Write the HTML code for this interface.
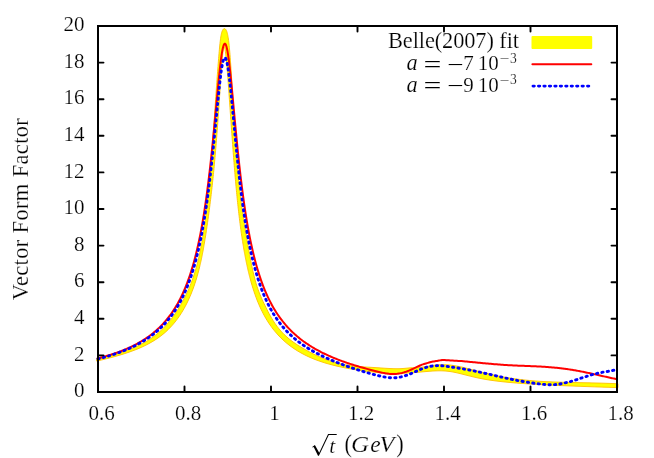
<!DOCTYPE html>
<html><head><meta charset="utf-8"><title>Vector Form Factor</title>
<style>
html,body{margin:0;padding:0;background:#fff;}
body{width:654px;height:458px;overflow:hidden;}
svg{display:block;will-change:transform;}
text{font-family:"Liberation Serif",serif;font-size:22.4px;fill:#000;stroke:#fff;stroke-width:0.2px;paint-order:fill stroke;}
text.d{font-size:21.0px;}
.it{font-style:italic;}
text.op{stroke-width:0.08px;}
text.sp{stroke-width:0.2px;}
</style></head><body>
<svg width="654" height="458" viewBox="0 0 654 458">
<rect x="0" y="0" width="654" height="458" fill="#fff"/>
<!-- Belle band -->
<path d="M96.70 358.79 L97.50 358.62 L98.00 358.51 L99.00 358.29 L100.00 358.06 L101.00 357.84 L102.00 357.61 L103.00 357.38 L104.00 357.14 L105.00 356.90 L106.00 356.66 L107.00 356.41 L108.00 356.16 L109.00 355.91 L110.00 355.65 L111.00 355.39 L112.00 355.12 L113.00 354.85 L114.00 354.57 L115.00 354.29 L116.00 354.00 L117.00 353.71 L118.00 353.41 L119.00 353.11 L120.00 352.80 L121.00 352.48 L122.00 352.16 L123.00 351.83 L124.00 351.49 L125.00 351.15 L126.00 350.80 L127.00 350.44 L128.00 350.07 L129.00 349.70 L130.00 349.31 L131.00 348.92 L132.00 348.51 L133.00 348.10 L134.00 347.68 L135.00 347.24 L136.00 346.80 L137.00 346.34 L138.00 345.87 L139.00 345.39 L140.00 344.90 L141.00 344.39 L142.00 343.87 L143.00 343.34 L144.00 342.79 L145.00 342.22 L146.00 341.64 L147.00 341.04 L148.00 340.43 L149.00 339.79 L150.00 339.14 L151.00 338.47 L152.00 337.78 L153.00 337.06 L154.00 336.32 L155.00 335.56 L156.00 334.78 L157.00 333.97 L158.00 333.13 L159.00 332.27 L160.00 331.37 L161.00 330.44 L162.00 329.49 L163.00 328.50 L164.00 327.48 L165.00 326.43 L166.00 325.34 L167.00 324.22 L168.00 323.06 L169.00 321.87 L170.00 320.64 L171.00 319.38 L172.00 318.07 L173.00 316.73 L174.00 315.34 L175.00 313.91 L176.00 312.44 L177.00 310.92 L178.00 309.35 L179.00 307.73 L180.00 306.06 L181.00 304.34 L182.00 302.56 L183.00 300.72 L184.00 298.83 L185.00 296.86 L186.00 294.82 L187.00 292.72 L188.00 290.53 L189.00 288.26 L190.00 285.89 L191.00 283.40 L192.00 280.78 L193.00 278.00 L194.00 275.04 L195.00 271.88 L196.00 268.49 L197.00 264.85 L198.00 260.91 L199.00 256.65 L200.00 252.03 L200.20 251.06 L200.40 250.07 L200.60 249.06 L200.80 248.04 L201.00 247.00 L201.20 245.94 L201.40 244.87 L201.60 243.77 L201.80 242.66 L202.00 241.53 L202.20 240.37 L202.40 239.20 L202.60 238.00 L202.80 236.79 L203.00 235.55 L203.20 234.29 L203.40 233.01 L203.60 231.70 L203.80 230.37 L204.00 229.02 L204.20 227.65 L204.40 226.24 L204.60 224.82 L204.80 223.36 L205.00 221.88 L205.20 220.38 L205.40 218.85 L205.60 217.29 L205.80 215.70 L206.00 214.08 L206.20 212.43 L206.40 210.76 L206.60 209.05 L206.80 207.31 L207.00 205.54 L207.20 203.74 L207.40 201.91 L207.60 200.05 L207.80 198.15 L208.00 196.22 L208.20 194.26 L208.40 192.26 L208.60 190.23 L208.80 188.17 L209.00 186.07 L209.20 183.93 L209.40 181.76 L209.60 179.56 L209.80 177.32 L210.00 175.04 L210.20 172.73 L210.40 170.39 L210.60 168.00 L210.80 165.59 L211.00 163.14 L211.20 160.65 L211.40 158.13 L211.60 155.58 L211.80 153.00 L212.00 150.38 L212.20 147.73 L212.40 145.05 L212.60 142.35 L212.80 139.61 L213.00 136.85 L213.20 134.06 L213.40 131.26 L213.60 128.43 L213.80 125.58 L214.00 122.71 L214.20 119.83 L214.40 116.94 L214.60 114.04 L214.80 111.13 L215.00 108.21 L215.20 105.30 L215.40 102.39 L215.60 99.49 L215.80 96.59 L216.00 93.71 L216.20 90.85 L216.40 88.01 L216.60 85.19 L216.80 82.41 L217.00 79.66 L217.20 76.94 L217.40 74.25 L217.60 71.59 L217.80 68.95 L218.00 66.34 L218.20 63.75 L218.40 61.18 L218.60 58.66 L218.80 56.17 L219.00 53.75 L219.20 51.41 L219.40 49.16 L219.60 47.03 L219.80 45.03 L220.00 43.15 L220.20 41.41 L220.40 39.81 L220.60 38.35 L220.80 37.03 L221.00 35.84 L221.20 34.77 L221.40 33.82 L221.60 32.99 L221.80 32.26 L222.00 31.61 L222.20 31.06 L222.40 30.57 L222.60 30.16 L222.80 29.80 L223.00 29.50 L223.20 29.25 L223.40 29.04 L223.60 28.88 L223.80 28.76 L224.00 28.67 L224.20 28.62 L224.40 28.60 L224.60 28.62 L224.80 28.67 L225.00 28.76 L225.20 28.88 L225.40 29.04 L225.60 29.24 L225.80 29.49 L226.00 29.79 L226.20 30.13 L226.40 30.53 L226.60 31.00 L226.80 31.53 L227.00 32.13 L227.20 32.81 L227.40 33.58 L227.60 34.44 L227.80 35.41 L228.00 36.48 L228.20 37.68 L228.40 39.01 L228.60 40.47 L228.80 42.07 L229.00 43.82 L229.20 45.72 L229.40 47.77 L229.60 49.97 L229.80 52.31 L230.00 54.79 L230.20 57.40 L230.40 60.13 L230.60 62.97 L230.80 65.89 L231.00 68.90 L231.20 71.99 L231.40 75.14 L231.60 78.34 L231.80 81.60 L232.00 84.89 L232.20 88.21 L232.40 91.56 L232.60 94.91 L232.80 98.28 L233.00 101.64 L233.20 104.99 L233.40 108.33 L233.60 111.65 L233.80 114.94 L234.00 118.20 L234.20 121.43 L234.40 124.62 L234.60 127.77 L234.80 130.87 L235.00 133.92 L235.20 136.92 L235.40 139.88 L235.60 142.78 L235.80 145.62 L236.00 148.41 L236.20 151.15 L236.40 153.82 L236.60 156.45 L236.80 159.01 L237.00 161.52 L237.20 163.97 L237.40 166.37 L237.60 168.72 L237.80 171.01 L238.00 173.25 L238.20 175.43 L238.40 177.57 L238.60 179.65 L238.80 181.69 L239.00 183.68 L239.20 185.62 L239.40 187.52 L239.60 189.37 L239.80 191.18 L240.00 192.95 L240.20 194.69 L240.40 196.38 L240.60 198.04 L240.80 199.66 L241.00 201.25 L241.20 202.80 L241.40 204.32 L241.60 205.82 L241.80 207.28 L242.00 208.72 L242.20 210.14 L242.40 211.52 L242.60 212.89 L242.80 214.24 L243.00 215.56 L243.20 216.87 L243.40 218.16 L243.60 219.43 L243.80 220.69 L244.00 221.93 L244.20 223.16 L244.40 224.38 L244.60 225.59 L244.80 226.80 L245.00 227.99 L245.20 229.18 L245.40 230.36 L245.60 231.54 L245.80 232.72 L246.00 233.89 L246.20 235.07 L246.40 236.24 L246.60 237.41 L246.80 238.59 L247.00 239.76 L247.20 240.92 L247.40 242.09 L247.60 243.25 L247.80 244.40 L248.00 245.55 L248.20 246.70 L248.40 247.84 L248.60 248.97 L248.80 250.10 L249.00 251.22 L249.20 252.33 L249.40 253.44 L249.60 254.54 L249.80 255.62 L250.00 256.70 L251.00 261.94 L252.00 266.88 L253.00 271.50 L254.00 275.75 L255.00 279.62 L256.00 283.13 L257.00 286.34 L258.00 289.29 L259.00 292.02 L260.00 294.57 L261.00 296.96 L262.00 299.22 L263.00 301.40 L264.00 303.50 L265.00 305.56 L266.00 307.59 L267.00 309.58 L268.00 311.53 L269.00 313.43 L270.00 315.27 L271.00 317.05 L272.00 318.77 L273.00 320.41 L274.00 321.98 L275.00 323.47 L276.00 324.90 L277.00 326.26 L278.00 327.56 L279.00 328.80 L280.00 329.99 L281.00 331.13 L282.00 332.22 L283.00 333.27 L284.00 334.28 L285.00 335.25 L286.00 336.19 L287.00 337.09 L288.00 337.96 L289.00 338.80 L290.00 339.61 L291.00 340.39 L292.00 341.16 L293.00 341.90 L294.00 342.62 L295.00 343.32 L296.00 344.00 L297.00 344.66 L298.00 345.31 L299.00 345.94 L300.00 346.56 L301.00 347.17 L302.00 347.77 L303.00 348.35 L304.00 348.93 L305.00 349.49 L306.00 350.05 L307.00 350.60 L308.00 351.15 L309.00 351.68 L310.00 352.21 L311.00 352.73 L312.00 353.24 L313.00 353.75 L314.00 354.24 L315.00 354.73 L316.00 355.20 L317.00 355.67 L318.00 356.13 L319.00 356.58 L320.00 357.02 L321.00 357.45 L322.00 357.87 L323.00 358.28 L324.00 358.69 L325.00 359.08 L326.00 359.46 L327.00 359.83 L328.00 360.19 L329.00 360.54 L330.00 360.89 L331.00 361.22 L332.00 361.54 L333.00 361.85 L334.00 362.15 L335.00 362.44 L336.00 362.72 L337.00 362.99 L338.00 363.25 L339.00 363.50 L340.00 363.74 L341.00 363.97 L342.00 364.19 L343.00 364.40 L344.00 364.59 L345.00 364.78 L346.00 364.96 L347.00 365.12 L348.00 365.28 L349.00 365.43 L350.00 365.57 L351.00 365.70 L352.00 365.83 L353.00 365.95 L354.00 366.06 L355.00 366.17 L356.00 366.27 L357.00 366.37 L358.00 366.46 L359.00 366.54 L360.00 366.62 L361.00 366.70 L362.00 366.78 L363.00 366.85 L364.00 366.92 L365.00 366.98 L366.00 367.04 L367.00 367.11 L368.00 367.17 L369.00 367.23 L370.00 367.28 L371.00 367.34 L372.00 367.40 L373.00 367.46 L374.00 367.52 L375.00 367.58 L376.00 367.64 L377.00 367.70 L378.00 367.77 L379.00 367.83 L380.00 367.90 L381.00 367.97 L382.00 368.04 L383.00 368.11 L384.00 368.18 L385.00 368.24 L386.00 368.31 L387.00 368.37 L388.00 368.43 L389.00 368.48 L390.00 368.53 L391.00 368.58 L392.00 368.62 L393.00 368.65 L394.00 368.68 L395.00 368.70 L396.00 368.71 L397.00 368.71 L398.00 368.71 L399.00 368.69 L400.00 368.66 L401.00 368.62 L402.00 368.56 L403.00 368.49 L404.00 368.41 L405.00 368.32 L406.00 368.23 L407.00 368.13 L408.00 368.03 L409.00 367.95 L410.00 367.87 L411.00 367.81 L412.00 367.77 L413.00 367.74 L414.00 367.72 L415.00 367.70 L416.00 367.67 L417.00 367.63 L418.00 367.57 L419.00 367.49 L420.00 367.39 L421.00 367.29 L422.00 367.16 L423.00 367.03 L424.00 366.88 L425.00 366.72 L426.00 366.56 L427.00 366.39 L428.00 366.22 L429.00 366.05 L430.00 365.87 L431.00 365.70 L432.00 365.54 L433.00 365.39 L434.00 365.25 L435.00 365.12 L436.00 365.01 L437.00 364.91 L438.00 364.83 L439.00 364.76 L440.00 364.71 L441.00 364.68 L442.00 364.66 L443.00 364.65 L444.00 364.67 L445.00 364.69 L446.00 364.73 L447.00 364.79 L448.00 364.86 L449.00 364.95 L450.00 365.05 L451.00 365.17 L452.00 365.29 L453.00 365.43 L454.00 365.58 L455.00 365.75 L456.00 365.92 L457.00 366.10 L458.00 366.30 L459.00 366.50 L460.00 366.71 L461.00 366.92 L462.00 367.15 L463.00 367.38 L464.00 367.62 L465.00 367.86 L466.00 368.10 L467.00 368.35 L468.00 368.60 L469.00 368.86 L470.00 369.11 L471.00 369.37 L472.00 369.63 L473.00 369.90 L474.00 370.16 L475.00 370.42 L476.00 370.68 L477.00 370.94 L478.00 371.20 L479.00 371.46 L480.00 371.72 L481.00 371.98 L482.00 372.23 L483.00 372.48 L484.00 372.73 L485.00 372.98 L486.00 373.22 L487.00 373.46 L488.00 373.70 L489.00 373.94 L490.00 374.17 L491.00 374.40 L492.00 374.63 L493.00 374.85 L494.00 375.07 L495.00 375.28 L496.00 375.49 L497.00 375.70 L498.00 375.90 L499.00 376.10 L500.00 376.30 L501.00 376.49 L502.00 376.68 L503.00 376.87 L504.00 377.05 L505.00 377.23 L506.00 377.40 L507.00 377.57 L508.00 377.74 L509.00 377.90 L510.00 378.06 L511.00 378.22 L512.00 378.37 L513.00 378.52 L514.00 378.66 L515.00 378.80 L516.00 378.94 L517.00 379.07 L518.00 379.21 L519.00 379.33 L520.00 379.46 L521.00 379.58 L522.00 379.70 L523.00 379.81 L524.00 379.92 L525.00 380.03 L526.00 380.14 L527.00 380.24 L528.00 380.34 L529.00 380.43 L530.00 380.53 L531.00 380.62 L532.00 380.70 L533.00 380.79 L534.00 380.87 L535.00 380.95 L536.00 381.02 L537.00 381.09 L538.00 381.16 L539.00 381.23 L540.00 381.30 L541.00 381.36 L542.00 381.42 L543.00 381.47 L544.00 381.53 L545.00 381.58 L546.00 381.63 L547.00 381.68 L548.00 381.73 L549.00 381.78 L550.00 381.82 L551.00 381.86 L552.00 381.90 L553.00 381.94 L554.00 381.98 L555.00 382.02 L556.00 382.05 L557.00 382.09 L558.00 382.12 L559.00 382.15 L560.00 382.18 L561.00 382.21 L562.00 382.24 L563.00 382.27 L564.00 382.29 L565.00 382.32 L566.00 382.35 L567.00 382.37 L568.00 382.40 L569.00 382.42 L570.00 382.44 L571.00 382.46 L572.00 382.49 L573.00 382.51 L574.00 382.53 L575.00 382.55 L576.00 382.57 L577.00 382.59 L578.00 382.61 L579.00 382.63 L580.00 382.65 L581.00 382.67 L582.00 382.69 L583.00 382.72 L584.00 382.74 L585.00 382.76 L586.00 382.78 L587.00 382.80 L588.00 382.82 L589.00 382.84 L590.00 382.86 L591.00 382.88 L592.00 382.91 L593.00 382.93 L594.00 382.95 L595.00 382.98 L596.00 383.00 L597.00 383.03 L598.00 383.05 L599.00 383.08 L600.00 383.11 L601.00 383.14 L602.00 383.17 L603.00 383.20 L604.00 383.23 L605.00 383.26 L606.00 383.29 L607.00 383.32 L608.00 383.36 L609.00 383.39 L610.00 383.43 L611.00 383.47 L612.00 383.51 L613.00 383.55 L614.00 383.59 L615.00 383.63 L616.00 383.67 L617.00 383.71 L617.90 383.76 L617.90 387.65 L617.00 387.60 L616.00 387.57 L615.00 387.54 L614.00 387.51 L613.00 387.47 L612.00 387.44 L611.00 387.41 L610.00 387.38 L609.00 387.34 L608.00 387.31 L607.00 387.28 L606.00 387.24 L605.00 387.21 L604.00 387.18 L603.00 387.14 L602.00 387.11 L601.00 387.08 L600.00 387.04 L599.00 387.01 L598.00 386.97 L597.00 386.94 L596.00 386.91 L595.00 386.87 L594.00 386.84 L593.00 386.80 L592.00 386.77 L591.00 386.73 L590.00 386.70 L589.00 386.66 L588.00 386.62 L587.00 386.59 L586.00 386.55 L585.00 386.52 L584.00 386.48 L583.00 386.44 L582.00 386.41 L581.00 386.37 L580.00 386.33 L579.00 386.29 L578.00 386.26 L577.00 386.22 L576.00 386.18 L575.00 386.14 L574.00 386.10 L573.00 386.07 L572.00 386.03 L571.00 385.99 L570.00 385.95 L569.00 385.91 L568.00 385.87 L567.00 385.83 L566.00 385.79 L565.00 385.74 L564.00 385.70 L563.00 385.66 L562.00 385.62 L561.00 385.58 L560.00 385.53 L559.00 385.49 L558.00 385.45 L557.00 385.40 L556.00 385.36 L555.00 385.31 L554.00 385.27 L553.00 385.22 L552.00 385.17 L551.00 385.13 L550.00 385.08 L549.00 385.03 L548.00 384.98 L547.00 384.93 L546.00 384.88 L545.00 384.83 L544.00 384.78 L543.00 384.73 L542.00 384.68 L541.00 384.63 L540.00 384.57 L539.00 384.52 L538.00 384.46 L537.00 384.41 L536.00 384.35 L535.00 384.29 L534.00 384.23 L533.00 384.17 L532.00 384.11 L531.00 384.05 L530.00 383.99 L529.00 383.93 L528.00 383.86 L527.00 383.80 L526.00 383.73 L525.00 383.66 L524.00 383.59 L523.00 383.52 L522.00 383.45 L521.00 383.38 L520.00 383.30 L519.00 383.23 L518.00 383.15 L517.00 383.07 L516.00 382.99 L515.00 382.91 L514.00 382.83 L513.00 382.74 L512.00 382.66 L511.00 382.57 L510.00 382.48 L509.00 382.39 L508.00 382.29 L507.00 382.20 L506.00 382.10 L505.00 382.00 L504.00 381.89 L503.00 381.79 L502.00 381.68 L501.00 381.57 L500.00 381.45 L499.00 381.34 L498.00 381.22 L497.00 381.09 L496.00 380.97 L495.00 380.84 L494.00 380.70 L493.00 380.57 L492.00 380.43 L491.00 380.28 L490.00 380.13 L489.00 379.98 L488.00 379.82 L487.00 379.66 L486.00 379.49 L485.00 379.32 L484.00 379.14 L483.00 378.96 L482.00 378.77 L481.00 378.57 L480.00 378.37 L479.00 378.17 L478.00 377.96 L477.00 377.74 L476.00 377.52 L475.00 377.29 L474.00 377.06 L473.00 376.83 L472.00 376.59 L471.00 376.34 L470.00 376.10 L469.00 375.85 L468.00 375.60 L467.00 375.34 L466.00 375.09 L465.00 374.83 L464.00 374.58 L463.00 374.32 L462.00 374.07 L461.00 373.82 L460.00 373.57 L459.00 373.33 L458.00 373.10 L457.00 372.86 L456.00 372.64 L455.00 372.43 L454.00 372.23 L453.00 372.03 L452.00 371.85 L451.00 371.69 L450.00 371.53 L449.00 371.40 L448.00 371.28 L447.00 371.17 L446.00 371.08 L445.00 371.00 L444.00 370.94 L443.00 370.89 L442.00 370.86 L441.00 370.83 L440.00 370.82 L439.00 370.82 L438.00 370.84 L437.00 370.86 L436.00 370.89 L435.00 370.93 L434.00 370.98 L433.00 371.03 L432.00 371.09 L431.00 371.16 L430.00 371.23 L429.00 371.31 L428.00 371.39 L427.00 371.47 L426.00 371.56 L425.00 371.65 L424.00 371.74 L423.00 371.83 L422.00 371.92 L421.00 372.01 L420.00 372.10 L419.00 372.19 L418.00 372.28 L417.00 372.37 L416.00 372.45 L415.00 372.53 L414.00 372.61 L413.00 372.69 L412.00 372.76 L411.00 372.83 L410.00 372.90 L409.00 372.96 L408.00 373.02 L407.00 373.07 L406.00 373.12 L405.00 373.16 L404.00 373.20 L403.00 373.24 L402.00 373.27 L401.00 373.29 L400.00 373.32 L399.00 373.33 L398.00 373.34 L397.00 373.35 L396.00 373.35 L395.00 373.34 L394.00 373.33 L393.00 373.32 L392.00 373.30 L391.00 373.27 L390.00 373.24 L389.00 373.21 L388.00 373.17 L387.00 373.12 L386.00 373.08 L385.00 373.02 L384.00 372.97 L383.00 372.90 L382.00 372.84 L381.00 372.77 L380.00 372.69 L379.00 372.61 L378.00 372.53 L377.00 372.45 L376.00 372.36 L375.00 372.26 L374.00 372.17 L373.00 372.06 L372.00 371.96 L371.00 371.85 L370.00 371.74 L369.00 371.62 L368.00 371.50 L367.00 371.38 L366.00 371.26 L365.00 371.13 L364.00 370.99 L363.00 370.86 L362.00 370.72 L361.00 370.58 L360.00 370.43 L359.00 370.28 L358.00 370.13 L357.00 369.97 L356.00 369.81 L355.00 369.65 L354.00 369.49 L353.00 369.32 L352.00 369.15 L351.00 368.97 L350.00 368.79 L349.00 368.61 L348.00 368.43 L347.00 368.24 L346.00 368.05 L345.00 367.85 L344.00 367.65 L343.00 367.45 L342.00 367.24 L341.00 367.02 L340.00 366.81 L339.00 366.58 L338.00 366.36 L337.00 366.13 L336.00 365.89 L335.00 365.65 L334.00 365.40 L333.00 365.15 L332.00 364.89 L331.00 364.63 L330.00 364.36 L329.00 364.08 L328.00 363.80 L327.00 363.51 L326.00 363.22 L325.00 362.92 L324.00 362.61 L323.00 362.29 L322.00 361.97 L321.00 361.63 L320.00 361.29 L319.00 360.95 L318.00 360.59 L317.00 360.22 L316.00 359.85 L315.00 359.46 L314.00 359.07 L313.00 358.67 L312.00 358.25 L311.00 357.83 L310.00 357.39 L309.00 356.94 L308.00 356.49 L307.00 356.01 L306.00 355.53 L305.00 355.04 L304.00 354.53 L303.00 354.01 L302.00 353.47 L301.00 352.92 L300.00 352.36 L299.00 351.78 L298.00 351.19 L297.00 350.57 L296.00 349.95 L295.00 349.30 L294.00 348.64 L293.00 347.96 L292.00 347.26 L291.00 346.54 L290.00 345.80 L289.00 345.03 L288.00 344.25 L287.00 343.44 L286.00 342.61 L285.00 341.75 L284.00 340.87 L283.00 339.96 L282.00 339.02 L281.00 338.05 L280.00 337.05 L279.00 336.01 L278.00 334.94 L277.00 333.84 L276.00 332.70 L275.00 331.52 L274.00 330.29 L273.00 329.02 L272.00 327.71 L271.00 326.34 L270.00 324.93 L269.00 323.46 L268.00 321.93 L267.00 320.34 L266.00 318.68 L265.00 316.95 L264.00 315.15 L263.00 313.27 L262.00 311.30 L261.00 309.25 L260.00 307.09 L259.00 304.83 L258.00 302.46 L257.00 299.96 L256.00 297.34 L255.00 294.57 L254.00 291.65 L253.00 288.56 L252.00 285.29 L251.00 281.82 L250.00 278.13 L249.80 277.37 L249.60 276.60 L249.40 275.81 L249.20 275.02 L249.00 274.21 L248.80 273.40 L248.60 272.57 L248.40 271.74 L248.20 270.89 L248.00 270.03 L247.80 269.16 L247.60 268.28 L247.40 267.39 L247.20 266.48 L247.00 265.56 L246.80 264.63 L246.60 263.69 L246.40 262.73 L246.20 261.76 L246.00 260.78 L245.80 259.78 L245.60 258.77 L245.40 257.74 L245.20 256.70 L245.00 255.65 L244.80 254.57 L244.60 253.49 L244.40 252.38 L244.20 251.26 L244.00 250.13 L243.80 248.97 L243.60 247.80 L243.40 246.62 L243.20 245.41 L243.00 244.18 L242.80 242.94 L242.60 241.68 L242.40 240.39 L242.20 239.09 L242.00 237.77 L241.80 236.42 L241.60 235.06 L241.40 233.67 L241.20 232.26 L241.00 230.83 L240.80 229.37 L240.60 227.89 L240.40 226.39 L240.20 224.86 L240.00 223.31 L239.80 221.73 L239.60 220.12 L239.40 218.49 L239.20 216.84 L239.00 215.15 L238.80 213.44 L238.60 211.69 L238.40 209.92 L238.20 208.12 L238.00 206.29 L237.80 204.43 L237.60 202.54 L237.40 200.61 L237.20 198.66 L237.00 196.67 L236.80 194.64 L236.60 192.59 L236.40 190.50 L236.20 188.37 L236.00 186.21 L235.80 184.02 L235.60 181.79 L235.40 179.52 L235.20 177.22 L235.00 174.88 L234.80 172.51 L234.60 170.10 L234.40 167.66 L234.20 165.18 L234.00 162.68 L233.80 160.14 L233.60 157.58 L233.40 154.98 L233.20 152.36 L233.00 149.71 L232.80 147.04 L232.60 144.35 L232.40 141.63 L232.20 138.89 L232.00 136.13 L231.80 133.36 L231.60 130.57 L231.40 127.77 L231.20 124.95 L231.00 122.12 L230.80 119.28 L230.60 116.44 L230.40 113.59 L230.20 110.74 L230.00 107.89 L229.80 105.04 L229.60 102.19 L229.40 99.35 L229.20 96.53 L229.00 93.71 L228.80 90.92 L228.60 88.14 L228.40 85.39 L228.20 82.67 L228.00 79.99 L227.80 77.34 L227.60 74.75 L227.40 72.21 L227.20 69.73 L227.00 67.31 L226.80 64.97 L226.60 62.70 L226.40 60.54 L226.20 58.47 L226.00 56.53 L225.80 54.73 L225.60 53.08 L225.40 51.61 L225.20 50.34 L225.00 49.27 L224.80 48.42 L224.60 47.80 L224.40 47.43 L224.20 47.30 L224.00 47.43 L223.80 47.81 L223.60 48.44 L223.40 49.33 L223.20 50.46 L223.00 51.82 L222.80 53.40 L222.60 55.19 L222.40 57.17 L222.20 59.33 L222.00 61.66 L221.80 64.12 L221.60 66.71 L221.40 69.41 L221.20 72.20 L221.00 75.06 L220.80 77.99 L220.60 80.96 L220.40 83.97 L220.20 87.00 L220.00 90.04 L219.80 93.08 L219.60 96.12 L219.40 99.14 L219.20 102.15 L219.00 105.14 L218.80 108.09 L218.60 111.02 L218.40 113.92 L218.20 116.78 L218.00 119.61 L217.80 122.40 L217.60 125.16 L217.40 127.88 L217.20 130.56 L217.00 133.21 L216.80 135.82 L216.60 138.39 L216.40 140.92 L216.20 143.41 L216.00 145.86 L215.80 148.27 L215.60 150.65 L215.40 152.98 L215.20 155.28 L215.00 157.54 L214.80 159.77 L214.60 161.96 L214.40 164.12 L214.20 166.24 L214.00 168.33 L213.80 170.39 L213.60 172.42 L213.40 174.41 L213.20 176.38 L213.00 178.32 L212.80 180.23 L212.60 182.11 L212.40 183.97 L212.20 185.80 L212.00 187.60 L211.80 189.38 L211.60 191.14 L211.40 192.88 L211.20 194.59 L211.00 196.28 L210.80 197.95 L210.60 199.60 L210.40 201.24 L210.20 202.85 L210.00 204.45 L209.80 206.03 L209.60 207.59 L209.40 209.13 L209.20 210.67 L209.00 212.18 L208.80 213.68 L208.60 215.17 L208.40 216.64 L208.20 218.10 L208.00 219.55 L207.80 220.98 L207.60 222.40 L207.40 223.80 L207.20 225.19 L207.00 226.57 L206.80 227.93 L206.60 229.28 L206.40 230.61 L206.20 231.93 L206.00 233.24 L205.80 234.53 L205.60 235.80 L205.40 237.06 L205.20 238.31 L205.00 239.54 L204.80 240.76 L204.60 241.96 L204.40 243.15 L204.20 244.32 L204.00 245.48 L203.80 246.62 L203.60 247.75 L203.40 248.86 L203.20 249.96 L203.00 251.04 L202.80 252.10 L202.60 253.15 L202.40 254.19 L202.20 255.20 L202.00 256.20 L201.80 257.19 L201.60 258.16 L201.40 259.11 L201.20 260.05 L201.00 260.98 L200.80 261.89 L200.60 262.78 L200.40 263.67 L200.20 264.54 L200.00 265.39 L199.00 269.49 L198.00 273.31 L197.00 276.86 L196.00 280.19 L195.00 283.31 L194.00 286.25 L193.00 289.02 L192.00 291.64 L191.00 294.14 L190.00 296.51 L189.00 298.78 L188.00 300.94 L187.00 303.00 L186.00 304.97 L185.00 306.86 L184.00 308.67 L183.00 310.40 L182.00 312.06 L181.00 313.66 L180.00 315.19 L179.00 316.67 L178.00 318.09 L177.00 319.46 L176.00 320.77 L175.00 322.04 L174.00 323.26 L173.00 324.44 L172.00 325.58 L171.00 326.68 L170.00 327.74 L169.00 328.76 L168.00 329.75 L167.00 330.70 L166.00 331.63 L165.00 332.52 L164.00 333.38 L163.00 334.21 L162.00 335.02 L161.00 335.80 L160.00 336.55 L159.00 337.29 L158.00 338.00 L157.00 338.69 L156.00 339.35 L155.00 340.00 L154.00 340.63 L153.00 341.25 L152.00 341.84 L151.00 342.42 L150.00 342.99 L149.00 343.54 L148.00 344.07 L147.00 344.59 L146.00 345.10 L145.00 345.60 L144.00 346.08 L143.00 346.55 L142.00 347.01 L141.00 347.46 L140.00 347.90 L139.00 348.33 L138.00 348.75 L137.00 349.16 L136.00 349.56 L135.00 349.96 L134.00 350.34 L133.00 350.72 L132.00 351.09 L131.00 351.46 L130.00 351.81 L129.00 352.16 L128.00 352.51 L127.00 352.84 L126.00 353.17 L125.00 353.50 L124.00 353.82 L123.00 354.14 L122.00 354.45 L121.00 354.75 L120.00 355.05 L119.00 355.35 L118.00 355.64 L117.00 355.93 L116.00 356.21 L115.00 356.49 L114.00 356.77 L113.00 357.04 L112.00 357.31 L111.00 357.58 L110.00 357.84 L109.00 358.10 L108.00 358.36 L107.00 358.61 L106.00 358.86 L105.00 359.11 L104.00 359.36 L103.00 359.61 L102.00 359.85 L101.00 360.09 L100.00 360.33 L99.00 360.57 L98.00 360.80 L97.50 360.92 L96.70 361.10Z" fill="#ffff00" stroke="#ffc000" stroke-width="0.9" stroke-linejoin="round"/>
<!-- red -->
<path d="M97.50 358.36 L98.00 358.23 L99.00 357.98 L100.00 357.73 L101.00 357.47 L102.00 357.21 L103.00 356.94 L104.00 356.66 L105.00 356.38 L106.00 356.10 L107.00 355.81 L108.00 355.51 L109.00 355.21 L110.00 354.91 L111.00 354.59 L112.00 354.27 L113.00 353.95 L114.00 353.62 L115.00 353.28 L116.00 352.93 L117.00 352.58 L118.00 352.22 L119.00 351.86 L120.00 351.48 L121.00 351.10 L122.00 350.71 L123.00 350.32 L124.00 349.91 L125.00 349.50 L126.00 349.08 L127.00 348.64 L128.00 348.20 L129.00 347.75 L130.00 347.29 L131.00 346.82 L132.00 346.34 L133.00 345.85 L134.00 345.35 L135.00 344.84 L136.00 344.31 L137.00 343.78 L138.00 343.23 L139.00 342.66 L140.00 342.09 L141.00 341.50 L142.00 340.89 L143.00 340.28 L144.00 339.64 L145.00 338.99 L146.00 338.33 L147.00 337.65 L148.00 336.95 L149.00 336.23 L150.00 335.49 L151.00 334.73 L152.00 333.96 L153.00 333.16 L154.00 332.34 L155.00 331.50 L156.00 330.63 L157.00 329.74 L158.00 328.83 L159.00 327.89 L160.00 326.92 L161.00 325.92 L162.00 324.89 L163.00 323.83 L164.00 322.73 L165.00 321.60 L166.00 320.44 L167.00 319.24 L168.00 318.00 L169.00 316.71 L170.00 315.39 L171.00 314.01 L172.00 312.59 L173.00 311.12 L174.00 309.60 L175.00 308.02 L176.00 306.38 L177.00 304.68 L178.00 302.92 L179.00 301.08 L180.00 299.18 L181.00 297.19 L182.00 295.12 L183.00 292.97 L184.00 290.73 L185.00 288.38 L186.00 285.94 L187.00 283.38 L188.00 280.71 L189.00 277.91 L190.00 274.97 L191.00 271.90 L192.00 268.67 L193.00 265.28 L194.00 261.72 L195.00 257.97 L196.00 254.02 L197.00 249.85 L198.00 245.46 L199.00 240.82 L200.00 235.92 L200.20 234.91 L200.40 233.88 L200.60 232.84 L200.80 231.80 L201.00 230.73 L201.20 229.66 L201.40 228.58 L201.60 227.48 L201.80 226.37 L202.00 225.25 L202.20 224.11 L202.40 222.97 L202.60 221.80 L202.80 220.63 L203.00 219.44 L203.20 218.24 L203.40 217.02 L203.60 215.79 L203.80 214.55 L204.00 213.29 L204.20 212.01 L204.40 210.73 L204.60 209.42 L204.80 208.10 L205.00 206.77 L205.20 205.42 L205.40 204.05 L205.60 202.67 L205.80 201.28 L206.00 199.86 L206.20 198.43 L206.40 196.99 L206.60 195.53 L206.80 194.05 L207.00 192.55 L207.20 191.04 L207.40 189.51 L207.60 187.96 L207.80 186.39 L208.00 184.81 L208.20 183.21 L208.40 181.59 L208.60 179.96 L208.80 178.30 L209.00 176.63 L209.20 174.94 L209.40 173.24 L209.60 171.51 L209.80 169.77 L210.00 168.00 L210.20 166.22 L210.40 164.43 L210.60 162.61 L210.80 160.78 L211.00 158.93 L211.20 157.06 L211.40 155.17 L211.60 153.27 L211.80 151.35 L212.00 149.41 L212.20 147.46 L212.40 145.49 L212.60 143.50 L212.80 141.50 L213.00 139.49 L213.20 137.46 L213.40 135.41 L213.60 133.36 L213.80 131.29 L214.00 129.20 L214.20 127.11 L214.40 125.01 L214.60 122.90 L214.80 120.78 L215.00 118.65 L215.20 116.51 L215.40 114.37 L215.60 112.23 L215.80 110.08 L216.00 107.93 L216.20 105.78 L216.40 103.63 L216.60 101.49 L216.80 99.35 L217.00 97.21 L217.20 95.09 L217.40 92.97 L217.60 90.87 L217.80 88.78 L218.00 86.70 L218.20 84.65 L218.40 82.61 L218.60 80.60 L218.80 78.62 L219.00 76.66 L219.20 74.73 L219.40 72.84 L219.60 70.98 L219.80 69.16 L220.00 67.38 L220.20 65.64 L220.40 63.95 L220.60 62.31 L220.80 60.73 L221.00 59.20 L221.20 57.72 L221.40 56.31 L221.60 54.96 L221.80 53.67 L222.00 52.45 L222.20 51.31 L222.40 50.23 L222.60 49.23 L222.80 48.31 L223.00 47.47 L223.20 46.71 L223.40 46.03 L223.60 45.44 L223.80 44.93 L224.00 44.51 L224.20 44.17 L224.40 43.93 L224.60 43.77 L224.80 43.70 L225.00 43.73 L225.20 43.84 L225.40 44.04 L225.60 44.33 L225.80 44.71 L226.00 45.17 L226.20 45.72 L226.40 46.36 L226.60 47.08 L226.80 47.89 L227.00 48.77 L227.20 49.73 L227.40 50.77 L227.60 51.88 L227.80 53.07 L228.00 54.32 L228.20 55.64 L228.40 57.03 L228.60 58.48 L228.80 59.98 L229.00 61.55 L229.20 63.17 L229.40 64.83 L229.60 66.55 L229.80 68.31 L230.00 70.12 L230.20 71.97 L230.40 73.85 L230.60 75.77 L230.80 77.72 L231.00 79.70 L231.20 81.70 L231.40 83.74 L231.60 85.79 L231.80 87.86 L232.00 89.95 L232.20 92.06 L232.40 94.18 L232.60 96.31 L232.80 98.45 L233.00 100.59 L233.20 102.74 L233.40 104.90 L233.60 107.06 L233.80 109.22 L234.00 111.38 L234.20 113.53 L234.40 115.68 L234.60 117.83 L234.80 119.97 L235.00 122.11 L235.20 124.24 L235.40 126.35 L235.60 128.46 L235.80 130.56 L236.00 132.64 L236.20 134.72 L236.40 136.78 L236.60 138.83 L236.80 140.86 L237.00 142.88 L237.20 144.88 L237.40 146.87 L237.60 148.84 L237.80 150.79 L238.00 152.73 L238.20 154.65 L238.40 156.56 L238.60 158.45 L238.80 160.32 L239.00 162.17 L239.20 164.00 L239.40 165.82 L239.60 167.62 L239.80 169.40 L240.00 171.16 L240.20 172.90 L240.40 174.63 L240.60 176.34 L240.80 178.03 L241.00 179.70 L241.20 181.35 L241.40 182.99 L241.60 184.61 L241.80 186.21 L242.00 187.79 L242.20 189.36 L242.40 190.90 L242.60 192.43 L242.80 193.95 L243.00 195.44 L243.20 196.92 L243.40 198.39 L243.60 199.83 L243.80 201.26 L244.00 202.67 L244.20 204.07 L244.40 205.45 L244.60 206.82 L244.80 208.17 L245.00 209.50 L245.20 210.82 L245.40 212.12 L245.60 213.41 L245.80 214.69 L246.00 215.95 L246.20 217.19 L246.40 218.42 L246.60 219.64 L246.80 220.84 L247.00 222.03 L247.20 223.21 L247.40 224.37 L247.60 225.52 L247.80 226.66 L248.00 227.78 L248.20 228.89 L248.40 229.99 L248.60 231.07 L248.80 232.15 L249.00 233.21 L249.20 234.26 L249.40 235.30 L249.60 236.32 L249.80 237.34 L250.00 238.34 L251.00 243.20 L252.00 247.80 L253.00 252.16 L254.00 256.29 L255.00 260.21 L256.00 263.94 L257.00 267.48 L258.00 270.86 L259.00 274.07 L260.00 277.14 L261.00 280.06 L262.00 282.86 L263.00 285.53 L264.00 288.09 L265.00 290.54 L266.00 292.89 L267.00 295.14 L268.00 297.31 L269.00 299.38 L270.00 301.38 L271.00 303.31 L272.00 305.16 L273.00 306.94 L274.00 308.66 L275.00 310.32 L276.00 311.92 L277.00 313.47 L278.00 314.97 L279.00 316.41 L280.00 317.81 L281.00 319.17 L282.00 320.48 L283.00 321.75 L284.00 322.99 L285.00 324.18 L286.00 325.35 L287.00 326.48 L288.00 327.57 L289.00 328.64 L290.00 329.68 L291.00 330.68 L292.00 331.67 L293.00 332.62 L294.00 333.55 L295.00 334.46 L296.00 335.34 L297.00 336.21 L298.00 337.05 L299.00 337.87 L300.00 338.67 L301.00 339.45 L302.00 340.21 L303.00 340.96 L304.00 341.69 L305.00 342.41 L306.00 343.10 L307.00 343.79 L308.00 344.45 L309.00 345.11 L310.00 345.75 L311.00 346.38 L312.00 346.99 L313.00 347.59 L314.00 348.18 L315.00 348.76 L316.00 349.33 L317.00 349.89 L318.00 350.44 L319.00 350.97 L320.00 351.50 L321.00 352.02 L322.00 352.52 L323.00 353.02 L324.00 353.51 L325.00 353.99 L326.00 354.47 L327.00 354.93 L328.00 355.39 L329.00 355.84 L330.00 356.28 L331.00 356.72 L332.00 357.15 L333.00 357.57 L334.00 357.98 L335.00 358.39 L336.00 358.79 L337.00 359.19 L338.00 359.58 L339.00 359.96 L340.00 360.34 L341.00 360.72 L342.00 361.08 L343.00 361.45 L344.00 361.80 L345.00 362.15 L346.00 362.50 L347.00 362.84 L348.00 363.18 L349.00 363.51 L350.00 363.84 L351.00 364.16 L352.00 364.49 L353.00 364.80 L354.00 365.11 L355.00 365.42 L356.00 365.73 L357.00 366.03 L358.00 366.33 L359.00 366.62 L360.00 366.92 L361.00 367.20 L362.00 367.49 L363.00 367.77 L364.00 368.06 L365.00 368.33 L366.00 368.61 L367.00 368.88 L368.00 369.15 L369.00 369.42 L370.00 369.69 L371.00 369.95 L372.00 370.21 L373.00 370.47 L374.00 370.73 L375.00 370.98 L376.00 371.23 L377.00 371.49 L378.00 371.73 L379.00 371.98 L380.00 372.22 L381.00 372.45 L382.00 372.67 L383.00 372.88 L384.00 373.08 L385.00 373.27 L386.00 373.44 L387.00 373.59 L388.00 373.72 L389.00 373.84 L390.00 373.93 L391.00 374.00 L392.00 374.04 L393.00 374.06 L394.00 374.05 L395.00 374.01 L396.00 373.94 L397.00 373.84 L398.00 373.71 L399.00 373.55 L400.00 373.37 L401.00 373.15 L402.00 372.92 L403.00 372.65 L404.00 372.36 L405.00 372.05 L406.00 371.72 L407.00 371.36 L408.00 370.98 L409.00 370.58 L410.00 370.16 L411.00 369.73 L412.00 369.28 L413.00 368.82 L414.00 368.35 L415.00 367.87 L416.00 367.39 L417.00 366.91 L418.00 366.44 L419.00 365.97 L420.00 365.52 L421.00 365.08 L422.00 364.65 L423.00 364.35 L424.00 364.05 L425.00 363.75 L426.00 363.44 L427.00 363.14 L428.00 362.84 L429.00 362.54 L430.00 362.23 L431.00 361.93 L432.00 361.75 L433.00 361.57 L434.00 361.40 L435.00 361.23 L436.00 361.06 L437.00 360.89 L438.00 360.72 L439.00 360.55 L440.00 360.38 L441.00 360.21 L442.00 360.04 L443.00 359.98 L444.00 360.04 L445.00 360.10 L446.00 360.16 L447.00 360.22 L448.00 360.28 L449.00 360.34 L450.00 360.40 L451.00 360.46 L452.00 360.52 L453.00 360.58 L454.00 360.64 L455.00 360.70 L456.00 360.76 L457.00 360.82 L458.00 360.88 L459.00 360.94 L460.00 361.00 L461.00 361.06 L462.00 361.12 L463.00 361.21 L464.00 361.30 L465.00 361.39 L466.00 361.49 L467.00 361.59 L468.00 361.68 L469.00 361.78 L470.00 361.88 L471.00 361.98 L472.00 362.08 L473.00 362.17 L474.00 362.27 L475.00 362.37 L476.00 362.47 L477.00 362.57 L478.00 362.66 L479.00 362.76 L480.00 362.86 L481.00 362.95 L482.00 363.05 L483.00 363.14 L484.00 363.24 L485.00 363.33 L486.00 363.42 L487.00 363.52 L488.00 363.61 L489.00 363.70 L490.00 363.79 L491.00 363.87 L492.00 363.96 L493.00 364.05 L494.00 364.13 L495.00 364.21 L496.00 364.29 L497.00 364.37 L498.00 364.45 L499.00 364.53 L500.00 364.60 L501.00 364.68 L502.00 364.75 L503.00 364.82 L504.00 364.89 L505.00 364.95 L506.00 365.02 L507.00 365.08 L508.00 365.14 L509.00 365.20 L510.00 365.25 L511.00 365.31 L512.00 365.36 L513.00 365.41 L514.00 365.46 L515.00 365.50 L516.00 365.55 L517.00 365.59 L518.00 365.63 L519.00 365.68 L520.00 365.72 L521.00 365.76 L522.00 365.80 L523.00 365.83 L524.00 365.87 L525.00 365.91 L526.00 365.95 L527.00 365.99 L528.00 366.03 L529.00 366.07 L530.00 366.11 L531.00 366.15 L532.00 366.19 L533.00 366.23 L534.00 366.27 L535.00 366.32 L536.00 366.36 L537.00 366.41 L538.00 366.46 L539.00 366.51 L540.00 366.56 L541.00 366.61 L542.00 366.67 L543.00 366.73 L544.00 366.79 L545.00 366.85 L546.00 366.92 L547.00 366.99 L548.00 367.06 L549.00 367.13 L550.00 367.21 L551.00 367.29 L552.00 367.38 L553.00 367.46 L554.00 367.55 L555.00 367.65 L556.00 367.75 L557.00 367.85 L558.00 367.95 L559.00 368.06 L560.00 368.18 L561.00 368.29 L562.00 368.42 L563.00 368.54 L564.00 368.67 L565.00 368.80 L566.00 368.94 L567.00 369.08 L568.00 369.22 L569.00 369.37 L570.00 369.53 L571.00 369.68 L572.00 369.84 L573.00 370.01 L574.00 370.17 L575.00 370.35 L576.00 370.52 L577.00 370.70 L578.00 370.88 L579.00 371.07 L580.00 371.26 L581.00 371.45 L582.00 371.64 L583.00 371.84 L584.00 372.04 L585.00 372.24 L586.00 372.45 L587.00 372.66 L588.00 372.87 L589.00 373.08 L590.00 373.29 L591.00 373.51 L592.00 373.72 L593.00 373.94 L594.00 374.16 L595.00 374.38 L596.00 374.60 L597.00 374.82 L598.00 375.05 L599.00 375.27 L600.00 375.49 L601.00 375.72 L602.00 375.94 L603.00 376.16 L604.00 376.39 L605.00 376.61 L606.00 376.83 L607.00 377.05 L608.00 377.27 L609.00 377.49 L610.00 377.71 L611.00 377.93 L612.00 378.15 L613.00 378.36 L614.00 378.58 L615.00 378.79 L616.00 379.00 L617.00 379.21" fill="none" stroke="#ff0000" stroke-width="2.0" stroke-linejoin="round" stroke-linecap="round"/>
<!-- blue dotted -->
<path d="M97.50 359.07 L98.00 358.94 L99.00 358.69 L100.00 358.43 L101.00 358.17 L102.00 357.90 L103.00 357.63 L104.00 357.35 L105.00 357.07 L106.00 356.78 L107.00 356.49 L108.00 356.20 L109.00 355.90 L110.00 355.59 L111.00 355.28 L112.00 354.96 L113.00 354.64 L114.00 354.31 L115.00 353.97 L116.00 353.63 L117.00 353.28 L118.00 352.93 L119.00 352.57 L120.00 352.20 L121.00 351.82 L122.00 351.44 L123.00 351.05 L124.00 350.65 L125.00 350.25 L126.00 349.83 L127.00 349.41 L128.00 348.98 L129.00 348.54 L130.00 348.10 L131.00 347.64 L132.00 347.17 L133.00 346.69 L134.00 346.21 L135.00 345.71 L136.00 345.20 L137.00 344.68 L138.00 344.15 L139.00 343.60 L140.00 343.05 L141.00 342.48 L142.00 341.90 L143.00 341.30 L144.00 340.69 L145.00 340.07 L146.00 339.43 L147.00 338.77 L148.00 338.10 L149.00 337.41 L150.00 336.70 L151.00 335.98 L152.00 335.23 L153.00 334.47 L154.00 333.69 L155.00 332.88 L156.00 332.05 L157.00 331.20 L158.00 330.33 L159.00 329.43 L160.00 328.50 L161.00 327.55 L162.00 326.57 L163.00 325.56 L164.00 324.52 L165.00 323.44 L166.00 322.33 L167.00 321.19 L168.00 320.01 L169.00 318.79 L170.00 317.53 L171.00 316.23 L172.00 314.88 L173.00 313.48 L174.00 312.04 L175.00 310.54 L176.00 308.99 L177.00 307.37 L178.00 305.70 L179.00 303.96 L180.00 302.16 L181.00 300.27 L182.00 298.32 L183.00 296.28 L184.00 294.15 L185.00 291.93 L186.00 289.62 L187.00 287.20 L188.00 284.67 L189.00 282.02 L190.00 279.24 L191.00 276.33 L192.00 273.28 L193.00 270.07 L194.00 266.70 L195.00 263.15 L196.00 259.41 L197.00 255.47 L198.00 251.31 L199.00 246.91 L200.00 242.27 L200.20 241.31 L200.40 240.34 L200.60 239.36 L200.80 238.36 L201.00 237.36 L201.20 236.34 L201.40 235.31 L201.60 234.27 L201.80 233.22 L202.00 232.16 L202.20 231.08 L202.40 229.99 L202.60 228.89 L202.80 227.78 L203.00 226.65 L203.20 225.51 L203.40 224.36 L203.60 223.19 L203.80 222.01 L204.00 220.81 L204.20 219.61 L204.40 218.38 L204.60 217.15 L204.80 215.89 L205.00 214.63 L205.20 213.35 L205.40 212.05 L205.60 210.74 L205.80 209.41 L206.00 208.07 L206.20 206.71 L206.40 205.34 L206.60 203.95 L206.80 202.54 L207.00 201.12 L207.20 199.68 L207.40 198.22 L207.60 196.75 L207.80 195.26 L208.00 193.75 L208.20 192.23 L208.40 190.69 L208.60 189.13 L208.80 187.56 L209.00 185.96 L209.20 184.35 L209.40 182.73 L209.60 181.08 L209.80 179.42 L210.00 177.74 L210.20 176.04 L210.40 174.32 L210.60 172.59 L210.80 170.84 L211.00 169.07 L211.20 167.29 L211.40 165.49 L211.60 163.67 L211.80 161.83 L212.00 159.98 L212.20 158.11 L212.40 156.22 L212.60 154.32 L212.80 152.41 L213.00 150.47 L213.20 148.53 L213.40 146.57 L213.60 144.60 L213.80 142.61 L214.00 140.61 L214.20 138.60 L214.40 136.58 L214.60 134.55 L214.80 132.51 L215.00 130.47 L215.20 128.41 L215.40 126.35 L215.60 124.28 L215.80 122.21 L216.00 120.14 L216.20 118.07 L216.40 115.99 L216.60 113.92 L216.80 111.85 L217.00 109.79 L217.20 107.73 L217.40 105.69 L217.60 103.65 L217.80 101.62 L218.00 99.61 L218.20 97.62 L218.40 95.64 L218.60 93.69 L218.80 91.76 L219.00 89.86 L219.20 87.98 L219.40 86.14 L219.60 84.32 L219.80 82.55 L220.00 80.82 L220.20 79.12 L220.40 77.47 L220.60 75.87 L220.80 74.32 L221.00 72.82 L221.20 71.38 L221.40 69.99 L221.60 68.67 L221.80 67.41 L222.00 66.21 L222.20 65.09 L222.40 64.03 L222.60 63.05 L222.80 62.14 L223.00 61.32 L223.20 60.57 L223.40 59.90 L223.60 59.31 L223.80 58.81 L224.00 58.40 L224.20 58.07 L224.40 57.82 L224.60 57.67 L224.80 57.60 L225.00 57.62 L225.20 57.74 L225.40 57.93 L225.60 58.22 L225.80 58.60 L226.00 59.06 L226.20 59.60 L226.40 60.23 L226.60 60.95 L226.80 61.74 L227.00 62.62 L227.20 63.57 L227.40 64.60 L227.60 65.70 L227.80 66.87 L228.00 68.11 L228.20 69.42 L228.40 70.79 L228.60 72.22 L228.80 73.72 L229.00 75.26 L229.20 76.86 L229.40 78.52 L229.60 80.21 L229.80 81.96 L230.00 83.74 L230.20 85.57 L230.40 87.43 L230.60 89.32 L230.80 91.25 L231.00 93.20 L231.20 95.18 L231.40 97.19 L231.60 99.21 L231.80 101.26 L232.00 103.32 L232.20 105.39 L232.40 107.48 L232.60 109.58 L232.80 111.68 L233.00 113.80 L233.20 115.91 L233.40 118.03 L233.60 120.15 L233.80 122.27 L234.00 124.39 L234.20 126.51 L234.40 128.62 L234.60 130.73 L234.80 132.83 L235.00 134.92 L235.20 137.01 L235.40 139.08 L235.60 141.15 L235.80 143.20 L236.00 145.24 L236.20 147.27 L236.40 149.28 L236.60 151.28 L236.80 153.27 L237.00 155.24 L237.20 157.19 L237.40 159.13 L237.60 161.06 L237.80 162.96 L238.00 164.85 L238.20 166.73 L238.40 168.58 L238.60 170.42 L238.80 172.24 L239.00 174.04 L239.20 175.83 L239.40 177.59 L239.60 179.34 L239.80 181.07 L240.00 182.78 L240.20 184.48 L240.40 186.15 L240.60 187.81 L240.80 189.45 L241.00 191.07 L241.20 192.68 L241.40 194.26 L241.60 195.83 L241.80 197.38 L242.00 198.92 L242.20 200.43 L242.40 201.93 L242.60 203.41 L242.80 204.87 L243.00 206.32 L243.20 207.75 L243.40 209.17 L243.60 210.56 L243.80 211.95 L244.00 213.31 L244.20 214.66 L244.40 215.99 L244.60 217.31 L244.80 218.61 L245.00 219.90 L245.20 221.17 L245.40 222.43 L245.60 223.67 L245.80 224.90 L246.00 226.12 L246.20 227.32 L246.40 228.50 L246.60 229.67 L246.80 230.83 L247.00 231.98 L247.20 233.11 L247.40 234.23 L247.60 235.33 L247.80 236.43 L248.00 237.51 L248.20 238.58 L248.40 239.63 L248.60 240.68 L248.80 241.71 L249.00 242.73 L249.20 243.74 L249.40 244.73 L249.60 245.72 L249.80 246.69 L250.00 247.66 L251.00 252.32 L252.00 256.73 L253.00 260.90 L254.00 264.85 L255.00 268.61 L256.00 272.17 L257.00 275.56 L258.00 278.78 L259.00 281.84 L260.00 284.76 L261.00 287.55 L262.00 290.21 L263.00 292.76 L264.00 295.19 L265.00 297.52 L266.00 299.75 L267.00 301.89 L268.00 303.94 L269.00 305.91 L270.00 307.80 L271.00 309.62 L272.00 311.38 L273.00 313.06 L274.00 314.69 L275.00 316.26 L276.00 317.77 L277.00 319.23 L278.00 320.64 L279.00 322.00 L280.00 323.32 L281.00 324.60 L282.00 325.83 L283.00 327.03 L284.00 328.19 L285.00 329.31 L286.00 330.40 L287.00 331.46 L288.00 332.49 L289.00 333.49 L290.00 334.46 L291.00 335.40 L292.00 336.32 L293.00 337.21 L294.00 338.08 L295.00 338.92 L296.00 339.75 L297.00 340.55 L298.00 341.33 L299.00 342.10 L300.00 342.84 L301.00 343.57 L302.00 344.28 L303.00 344.98 L304.00 345.66 L305.00 346.32 L306.00 346.97 L307.00 347.61 L308.00 348.24 L309.00 348.85 L310.00 349.45 L311.00 350.04 L312.00 350.62 L313.00 351.19 L314.00 351.74 L315.00 352.29 L316.00 352.83 L317.00 353.36 L318.00 353.88 L319.00 354.39 L320.00 354.89 L321.00 355.39 L322.00 355.88 L323.00 356.36 L324.00 356.83 L325.00 357.30 L326.00 357.76 L327.00 358.22 L328.00 358.67 L329.00 359.11 L330.00 359.54 L331.00 359.98 L332.00 360.40 L333.00 360.82 L334.00 361.24 L335.00 361.65 L336.00 362.05 L337.00 362.45 L338.00 362.85 L339.00 363.24 L340.00 363.63 L341.00 364.01 L342.00 364.39 L343.00 364.76 L344.00 365.13 L345.00 365.49 L346.00 365.86 L347.00 366.21 L348.00 366.57 L349.00 366.92 L350.00 367.26 L351.00 367.61 L352.00 367.95 L353.00 368.28 L354.00 368.61 L355.00 368.94 L356.00 369.27 L357.00 369.59 L358.00 369.91 L359.00 370.22 L360.00 370.53 L361.00 370.84 L362.00 371.14 L363.00 371.44 L364.00 371.74 L365.00 372.04 L366.00 372.33 L367.00 372.62 L368.00 372.90 L369.00 373.18 L370.00 373.46 L371.00 373.74 L372.00 374.01 L373.00 374.28 L374.00 374.54 L375.00 374.81 L376.00 375.06 L377.00 375.32 L378.00 375.57 L379.00 375.82 L380.00 376.06 L381.00 376.30 L382.00 376.52 L383.00 376.73 L384.00 376.92 L385.00 377.11 L386.00 377.27 L387.00 377.42 L388.00 377.54 L389.00 377.65 L390.00 377.74 L391.00 377.80 L392.00 377.84 L393.00 377.85 L394.00 377.83 L395.00 377.78 L396.00 377.70 L397.00 377.59 L398.00 377.45 L399.00 377.28 L400.00 377.09 L401.00 376.88 L402.00 376.64 L403.00 376.38 L404.00 376.10 L405.00 375.80 L406.00 375.48 L407.00 375.14 L408.00 374.78 L409.00 374.40 L410.00 374.00 L411.00 373.59 L412.00 373.16 L413.00 372.72 L414.00 372.28 L415.00 371.82 L416.00 371.36 L417.00 370.91 L418.00 370.46 L419.00 370.03 L420.00 369.60 L421.00 369.19 L422.00 368.80 L423.00 368.42 L424.00 368.07 L425.00 367.73 L426.00 367.42 L427.00 367.13 L428.00 366.86 L429.00 366.62 L430.00 366.41 L431.00 366.22 L432.00 366.06 L433.00 365.93 L434.00 365.82 L435.00 365.74 L436.00 365.69 L437.00 365.65 L438.00 365.65 L439.00 365.66 L440.00 365.70 L441.00 365.75 L442.00 365.82 L443.00 365.91 L444.00 366.01 L445.00 366.12 L446.00 366.25 L447.00 366.38 L448.00 366.52 L449.00 366.66 L450.00 366.81 L451.00 366.96 L452.00 367.11 L453.00 367.26 L454.00 367.42 L455.00 367.57 L456.00 367.73 L457.00 367.89 L458.00 368.05 L459.00 368.21 L460.00 368.38 L461.00 368.55 L462.00 368.71 L463.00 368.89 L464.00 369.06 L465.00 369.24 L466.00 369.42 L467.00 369.60 L468.00 369.78 L469.00 369.97 L470.00 370.16 L471.00 370.35 L472.00 370.55 L473.00 370.74 L474.00 370.94 L475.00 371.15 L476.00 371.35 L477.00 371.56 L478.00 371.77 L479.00 371.98 L480.00 372.20 L481.00 372.41 L482.00 372.63 L483.00 372.85 L484.00 373.07 L485.00 373.30 L486.00 373.52 L487.00 373.75 L488.00 373.98 L489.00 374.21 L490.00 374.44 L491.00 374.67 L492.00 374.91 L493.00 375.14 L494.00 375.37 L495.00 375.61 L496.00 375.84 L497.00 376.08 L498.00 376.31 L499.00 376.54 L500.00 376.77 L501.00 377.00 L502.00 377.23 L503.00 377.46 L504.00 377.68 L505.00 377.91 L506.00 378.13 L507.00 378.34 L508.00 378.56 L509.00 378.77 L510.00 378.99 L511.00 379.19 L512.00 379.40 L513.00 379.60 L514.00 379.80 L515.00 380.00 L516.00 380.20 L517.00 380.39 L518.00 380.58 L519.00 380.76 L520.00 380.94 L521.00 381.12 L522.00 381.30 L523.00 381.47 L524.00 381.65 L525.00 381.81 L526.00 381.98 L527.00 382.14 L528.00 382.30 L529.00 382.45 L530.00 382.61 L531.00 382.76 L532.00 382.91 L533.00 383.05 L534.00 383.19 L535.00 383.33 L536.00 383.47 L537.00 383.60 L538.00 383.73 L539.00 383.86 L540.00 383.98 L541.00 384.10 L542.00 384.20 L543.00 384.30 L544.00 384.40 L545.00 384.48 L546.00 384.55 L547.00 384.61 L548.00 384.66 L549.00 384.69 L550.00 384.72 L551.00 384.73 L552.00 384.72 L553.00 384.70 L554.00 384.66 L555.00 384.60 L556.00 384.51 L557.00 384.41 L558.00 384.28 L559.00 384.14 L560.00 383.97 L561.00 383.79 L562.00 383.60 L563.00 383.39 L564.00 383.16 L565.00 382.93 L566.00 382.69 L567.00 382.45 L568.00 382.19 L569.00 381.92 L570.00 381.65 L571.00 381.37 L572.00 381.08 L573.00 380.79 L574.00 380.48 L575.00 380.17 L576.00 379.85 L577.00 379.53 L578.00 379.20 L579.00 378.86 L580.00 378.53 L581.00 378.19 L582.00 377.85 L583.00 377.51 L584.00 377.18 L585.00 376.85 L586.00 376.52 L587.00 376.20 L588.00 375.89 L589.00 375.58 L590.00 375.28 L591.00 374.99 L592.00 374.71 L593.00 374.43 L594.00 374.17 L595.00 373.91 L596.00 373.67 L597.00 373.43 L598.00 373.21 L599.00 372.99 L600.00 372.78 L601.00 372.58 L602.00 372.39 L603.00 372.20 L604.00 372.02 L605.00 371.84 L606.00 371.67 L607.00 371.49 L608.00 371.32 L609.00 371.15 L610.00 370.97 L611.00 370.78 L612.00 370.59 L613.00 370.39 L614.00 370.18 L615.00 369.95 L616.00 369.71 L617.00 369.44" fill="none" stroke="#0000ff" stroke-width="2.9" stroke-linecap="round" stroke-dasharray="1.3 4.15" stroke-dashoffset="-0.5" stroke-linejoin="round"/>
<!-- legend samples -->
<rect x="532.5" y="37" width="58.7" height="11" fill="#ffff00" stroke="#ffff00" stroke-width="2" stroke-linejoin="round"/>
<path d="M532.4 64.3H591.3" stroke="#ff0000" stroke-width="2.0" stroke-linecap="round"/>
<path d="M533 86.1H591.3" stroke="#0000ff" stroke-width="2.9" stroke-linecap="round" stroke-dasharray="1.3 4.15"/>
<!-- frame + ticks -->
<path d="M98.00 392.00 h5.50 M617.00 392.00 h-5.50 M98.00 355.40 h5.50 M617.00 355.40 h-5.50 M98.00 318.80 h5.50 M617.00 318.80 h-5.50 M98.00 282.20 h5.50 M617.00 282.20 h-5.50 M98.00 245.60 h5.50 M617.00 245.60 h-5.50 M98.00 209.00 h5.50 M617.00 209.00 h-5.50 M98.00 172.40 h5.50 M617.00 172.40 h-5.50 M98.00 135.80 h5.50 M617.00 135.80 h-5.50 M98.00 99.20 h5.50 M617.00 99.20 h-5.50 M98.00 62.60 h5.50 M617.00 62.60 h-5.50 M98.00 26.00 h5.50 M617.00 26.00 h-5.50 M98.00 392.00 v-5.50 M98.00 26.00 v5.50 M184.50 392.00 v-5.50 M184.50 26.00 v5.50 M271.00 392.00 v-5.50 M271.00 26.00 v5.50 M357.50 392.00 v-5.50 M357.50 26.00 v5.50 M444.00 392.00 v-5.50 M444.00 26.00 v5.50 M530.50 392.00 v-5.50 M530.50 26.00 v5.50 M617.00 392.00 v-5.50 M617.00 26.00 v5.50" stroke="#000" stroke-width="1.9" stroke-linecap="round" fill="none"/>
<rect x="98.0" y="26.0" width="519.0" height="366.0" fill="none" stroke="#000" stroke-width="2"/>
<!-- tick labels -->
<text class="d" x="84.6" y="397.2" text-anchor="end">0</text><text class="d" x="84.6" y="360.6" text-anchor="end">2</text><text class="d" x="84.6" y="324.0" text-anchor="end">4</text><text class="d" x="84.6" y="287.4" text-anchor="end">6</text><text class="d" x="84.6" y="250.8" text-anchor="end">8</text><text class="d" x="84.6" y="214.2" text-anchor="end">10</text><text class="d" x="84.6" y="177.6" text-anchor="end">12</text><text class="d" x="84.6" y="141.0" text-anchor="end">14</text><text class="d" x="84.6" y="104.4" text-anchor="end">16</text><text class="d" x="84.6" y="67.8" text-anchor="end">18</text><text class="d" x="84.6" y="31.2" text-anchor="end">20</text>
<text class="d" x="101.6" y="419.8" text-anchor="middle">0.6</text><text class="d" x="188.1" y="419.8" text-anchor="middle">0.8</text><text class="d" x="274.6" y="419.8" text-anchor="middle">1</text><text class="d" x="361.1" y="419.8" text-anchor="middle">1.2</text><text class="d" x="447.6" y="419.8" text-anchor="middle">1.4</text><text class="d" x="534.1" y="419.8" text-anchor="middle">1.6</text><text class="d" x="620.6" y="419.8" text-anchor="middle">1.8</text>
<!-- axis labels -->
<text transform="translate(27.8,209.2) rotate(-90)" text-anchor="middle" textLength="182" lengthAdjust="spacing">Vector Form Factor</text>
<g>
<path d="M312.2 446.9 L314.9 444.9 L319.2 452.8 L328.1 434.0 H336.7 V435.0 H328.8 L318.9 455.7 H318.0 L313.7 446.9 L312.7 447.6 Z" fill="#000" stroke="none"/>
<text x="329.3" y="452.5" class="it" style="font-size:21.5px">t</text>
<text transform="translate(344.4,452.3) scale(1,1.1)">(</text>
<text transform="translate(351,452.3) scale(1.12,1)" class="it">G</text><text transform="translate(370.3,452.3) scale(1.05,1)" class="it">e</text><text transform="translate(379.6,452.3) scale(1.08,1)" class="it">V</text>
<text transform="translate(396.2,452.3) scale(1,1.1)">)</text>
</g>
<!-- legend text -->
<text x="519" y="47.5" text-anchor="end" textLength="131" lengthAdjust="spacing">Belle(2007) fit</text>
<g><text x="406.4" y="69.8" class="it">a</text><text class="op" transform="translate(423.6,71.5) scale(1.42,1)">=</text><text class="op" transform="translate(447.3,71.5) scale(1.30,1)">−</text><text class="d" x="463.2" y="69.8">7</text><text class="d" x="477.8" y="69.8">10</text><text class="op" transform="translate(499.8,63.1) scale(1.25,1)" style="font-size:13.6px">−</text><text class="sp" x="510" y="62.5" style="font-size:13.6px">3</text></g>
<g><text x="406.4" y="91.7" class="it">a</text><text class="op" transform="translate(423.6,93.4) scale(1.42,1)">=</text><text class="op" transform="translate(447.3,93.4) scale(1.30,1)">−</text><text class="d" x="463.2" y="91.7">9</text><text class="d" x="477.8" y="91.7">10</text><text class="op" transform="translate(499.8,85.0) scale(1.25,1)" style="font-size:13.6px">−</text><text class="sp" x="510" y="84.4" style="font-size:13.6px">3</text></g>
</svg>
</body></html>
